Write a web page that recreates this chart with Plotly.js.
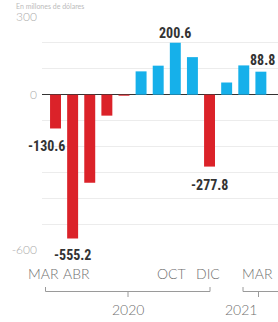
<!DOCTYPE html>
<html><head><meta charset="utf-8">
<script src="https://cdn.plot.ly/plotly-3.0.1.min.js"></script>
<style>html,body{margin:0;padding:0;background:#fff;}#c{width:278px;height:322px;}</style>
</head><body><div id="c"></div>
<script>
var months = ["MAR","ABR","MAY","JUN","JUL","AGO","SEP","OCT","NOV","DIC","ENE","FEB","MAR"];
var values = [-130.6, -555.2, -340, -81, -4, 90, 112, 200.6, 145, -277.8, 47, 113, 88.8];
var labelled = {0:"-130.6", 1:"-555.2", 7:"200.6", 9:"-277.8", 12:"88.8"};
var xLabels = ["MAR","ABR","OCT","DIC","MAR"];
var xLabelPos = [-0.72, 1.2, 6.8, 8.9, 11.8];
var years = ["2020","2021"];
var yTickVals = [300,200,100,0,-100,-200,-300,-400,-500,-600];
var yTickText = ["300","","","0","","","","","","-600"];

var idx = values.map(function(v,i){return i;});
var colors = values.map(function(v){return v<0 ? "#db2229" : "#16b0ea";});

var L=42, T=17, W=236, H=233;
function px(x){return (x-L)/W;}
function py(y){return (T+H-y)/H;}

var annFont = {family:"'Roboto Condensed','Liberation Sans Narrow',Roboto,sans-serif", size:14, color:"#333", weight:700};
var anns = [];
var labShift = {0:[-0.5,-8],1:[0,-7],7:[0,0],9:[0,-8],12:[0.1,-2]};
Object.keys(labelled).forEach(function(k){
  var i=+k, v=values[i];
  anns.push({x:i+labShift[k][0], y:v, xref:"x", yref:"y", text:labelled[k], showarrow:false,
    yanchor: v<0?"top":"bottom", yshift: v<0?labShift[k][1]:labShift[k][1]*-1, font:annFont});
});
var axFont = {family:"Lato, 'Open Sans', sans-serif", size:14, color:"#6f6f6f", weight:300};
xLabels.forEach(function(t,j){
  anns.push({x:xLabelPos[j], y:py(273), xref:"x", yref:"paper", text:t, showarrow:false, yanchor:"middle", font:axFont});
});
anns.push({x:px(128), y:py(310), xref:"paper", yref:"paper", text:years[0], showarrow:false, yanchor:"middle", font:axFont});
anns.push({x:px(258.5), y:py(310), xref:"paper", yref:"paper", text:years[1], showarrow:false, yanchor:"middle", font:axFont});
anns.push({x:px(14), y:py(0), xref:"paper", yref:"paper", text:"En millones de dólares", showarrow:false, xanchor:"left", yanchor:"top", font:{family:"Lato, sans-serif", size:7, color:"#bbb"}});

var line = {color:"#9a9a9a", width:1};
function seg(x0,y0,x1,y1){return {type:"line", xref:"paper", yref:"paper", x0:px(x0), y0:py(y0), x1:px(x1), y1:py(y1), line:line};}
var shapes = [
  seg(45.5,291.5,210,291.5), seg(45.5,287,45.5,291.5), seg(210,287,210,291.5), seg(128,291.5,128,297),
  seg(243,291.5,280,291.5), seg(243,287,243,291.5), seg(258.5,291.5,258.5,297)
];

Plotly.newPlot("c", [{
  type:"bar", x:idx, y:values, width:0.64, marker:{color:colors}, hoverinfo:"skip"
}], {
  width:278, height:322, margin:{l:L, r:0, t:T, b:322-T-H},
  paper_bgcolor:"#fff", plot_bgcolor:"#fff", showlegend:false,
  xaxis:{range:[-0.79,13.0], showticklabels:false, showgrid:false, zeroline:false, fixedrange:true},
  yaxis:{range:[-600,300], tickvals:yTickVals, ticktext:yTickText, gridcolor:"#ececec", gridwidth:1,
    zeroline:true, zerolinecolor:"#333", zerolinewidth:1.5, ticklabelstandoff:4,
    tickfont:{family:"Lato, sans-serif", size:12, color:"#aaa", weight:300}, fixedrange:true},
  annotations:anns, shapes:shapes
}, {displayModeBar:false, staticPlot:true});
</script></body></html>
